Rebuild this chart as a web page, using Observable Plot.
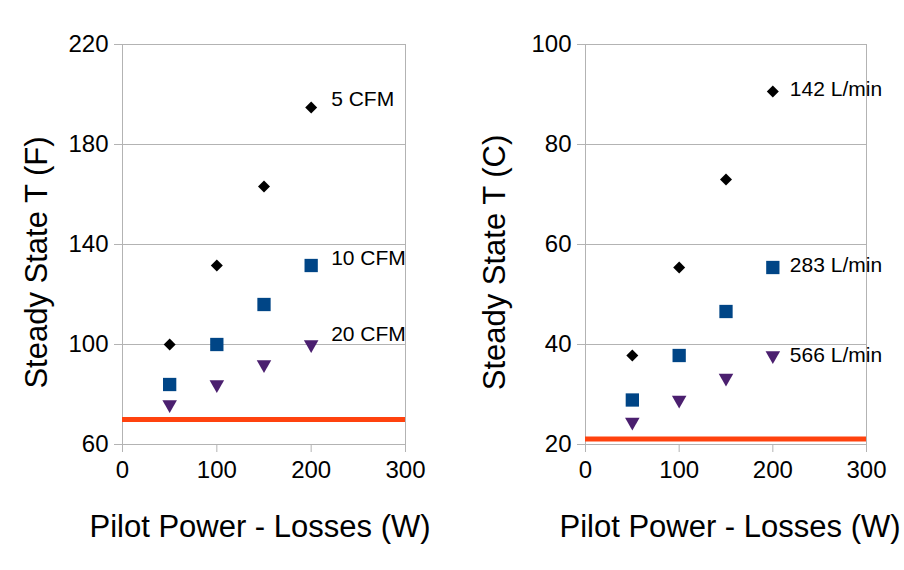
<!DOCTYPE html>
<html>
<head>
<meta charset="utf-8">
<script src="https://cdn.jsdelivr.net/npm/d3@7"></script>
<script src="https://cdn.jsdelivr.net/npm/@observablehq/plot@0.6"></script>
<style>
  html, body { margin: 0; padding: 0; background: #fff; }
  #row { display: flex; flex-direction: row; width: 904px; height: 570px; }
  svg { font-family: "Liberation Sans", Arial, sans-serif; }
</style>
</head>
<body>
<div id="row"></div>
<script>
// ---- data ----
const power = [50, 100, 150, 200];               // W
const xTicks = [0, 100, 200, 300];

const tempF_5cfm  = [100, 131.6, 163.2, 194.8];
const tempF_10cfm = [84, 100, 116, 131.6];
const tempF_20cfm = [76, 84, 92, 100];
const ambientF = 70;
const yTicksF = [60, 100, 140, 180, 220];
const labelsF = ["5 CFM", "10 CFM", "20 CFM"];

const tempC_142 = [37.8, 55.4, 73.0, 90.6];
const tempC_283 = [28.9, 37.8, 46.6, 55.4];
const tempC_566 = [24.5, 28.9, 33.3, 37.8];
const ambientC = 21.1;
const yTicksC = [20, 40, 60, 80, 100];
const labelsC = ["142 L/min", "283 L/min", "566 L/min"];

const colors = ["#000000", "#004586", "#4b1f6f"];
const symbols = ["diamond2", "square", "triangle"];
const sizes = [5.4, 7.5, 5.4];
const rotations = [0, 0, 180];

function panel({series, labels, ambient, yDomain, yTicks, yLabel, marginLeft, marginRight, labelDx, labelDy, yLabelDx, xLabelDx}) {
  const grey = "#b3b3b3";
  const marks = [
    Plot.gridY(yTicks, {stroke: grey, strokeOpacity: 1}),
    Plot.frame({stroke: grey}),
    Plot.axisY(yTicks, {tickSize: 8, tickPadding: 6, fontSize: 24, label: null, stroke: grey, color: "#000"}),
    Plot.axisX(xTicks, {tickSize: 8, tickPadding: 8, fontSize: 24, label: null, stroke: grey, color: "#000"}),
    Plot.ruleY([ambient], {stroke: "#ff420e", strokeWidth: 5})
  ];
  series.forEach((vals, i) => {
    const rows = power.map((p, j) => ({p, t: vals[j]}));
    marks.push(Plot.dot(rows, {x: "p", y: "t", symbol: () => symbols[i], r: sizes[i], fill: colors[i], stroke: "none", rotate: rotations[i]}));
    const last = rows[rows.length - 1];
    marks.push(Plot.text([{p: last.p, t: last.t, s: labels[i]}], {x: "p", y: "t", text: "s", textAnchor: "start", dx: labelDx, dy: labelDy[i], fontSize: 21, fill: "#000"}));
  });
  marks.push(Plot.text([yLabel], {frameAnchor: "left", textAnchor: "middle", lineAnchor: "middle", rotate: -90, dx: yLabelDx, dy: 18, fontSize: 31, fill: "#000"}));
  marks.push(Plot.text(["Pilot Power - Losses (W)"], {frameAnchor: "bottom", textAnchor: "middle", lineAnchor: "middle", dx: xLabelDx, dy: 83, fontSize: 31, fill: "#000"}));
  return Plot.plot({
    width: 452,
    height: 570,
    marginTop: 44,
    marginBottom: 126,
    marginLeft,
    marginRight,
    style: {fontFamily: "Liberation Sans, Arial, sans-serif", background: "#fff"},
    x: {domain: [0, 300]},
    y: {domain: yDomain},
    symbol: {type: "identity"},
    marks
  });
}

const row = document.getElementById("row");
row.appendChild(panel({
  series: [tempF_5cfm, tempF_10cfm, tempF_20cfm],
  labels: labelsF, ambient: ambientF, yDomain: [60, 220], yTicks: yTicksF,
  yLabel: "Steady State T (F)", marginLeft: 122, marginRight: 47,
  labelDx: 20, labelDy: [-8, -7, -10], yLabelDx: -85, xLabelDx: -4
}));
row.appendChild(panel({
  series: [tempC_142, tempC_283, tempC_566],
  labels: labelsC, ambient: ambientC, yDomain: [20, 100], yTicks: yTicksC,
  yLabel: "Steady State T (C)", marginLeft: 133, marginRight: 38,
  labelDx: 17, labelDy: [-2, -2, 0], yLabelDx: -90, xLabelDx: 4
}));
</script>
</body>
</html>
